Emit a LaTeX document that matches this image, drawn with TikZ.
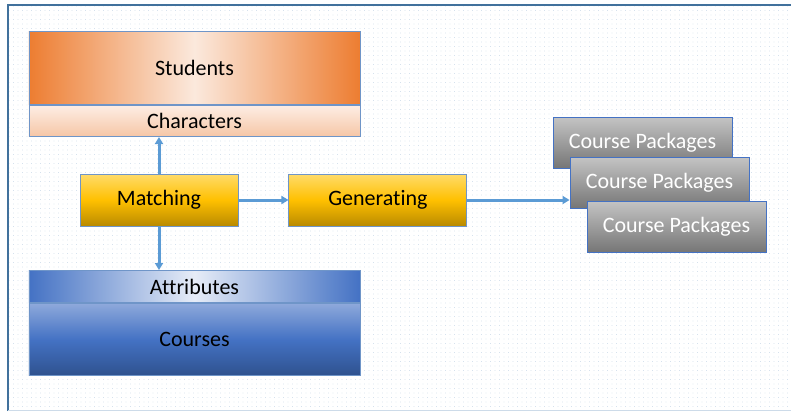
\documentclass[tikz,border=0pt]{standalone}
\usepackage{fontspec}
\setmainfont{Carlito}[Ligatures=NoCommon]
\usetikzlibrary{positioning,arrows.meta,patterns.meta}

\definecolor{frameblue}{HTML}{41719C}
\definecolor{edgeblue}{HTML}{6F95C8}
\definecolor{arrowblue}{HTML}{5B9BD5}
\definecolor{dotblue}{HTML}{C0D2E4}
\definecolor{orange1}{HTML}{ED7D31}
\definecolor{orange2}{HTML}{FBE9DD}
\definecolor{peach1}{HTML}{FDEDE4}
\definecolor{peach2}{HTML}{F6C6A6}
\definecolor{gold1}{HTML}{FFDB6A}
\definecolor{gold2}{HTML}{FFC000}
\definecolor{gold3}{HTML}{B98A00}
\definecolor{blue1}{HTML}{4472C4}
\definecolor{blue2}{HTML}{E6ECF7}
\definecolor{blue3}{HTML}{8EA9DB}
\definecolor{blue4}{HTML}{2F528F}
\definecolor{grey1}{HTML}{C4C4C4}
\definecolor{grey2}{HTML}{767676}

\tikzset{
  box/.style={draw=edgeblue, line width=0.9bp, inner sep=0pt,
    font=\fontsize{22bp}{24bp}\selectfont},
  wide/.style={box, minimum width=331bp},
  proc/.style={box, minimum height=52bp, top color=gold1, bottom color=gold3,
    middle color=gold2},
  pack/.style={box, draw=blue1, minimum width=179bp, minimum height=51bp,
    top color=grey1, bottom color=grey2, text=white},
  link/.style={draw=arrowblue, line width=3bp,
    -{Triangle[length=7bp,width=8bp]}}
}

\begin{document}
\begin{tikzpicture}[x=1bp,y=-1bp]
    % sheet with dotted paper
    \useasboundingbox (0,0) rectangle (791,411);
    \fill[white] (0,0) rectangle (791,411);
    \fill[pattern={Dots[distance=4.5bp,radius=0.45bp]}, pattern color=dotblue]
        (8,5) rectangle (791,410);
    \draw[frameblue, line width=1.5bp] (8,411) -- (8,5) -- (791,5);
    \draw[dotblue!80, line width=0.8bp] (8,410) -- (791,410);

    % middle row
    \node[proc, minimum width=158bp] (mat) at (159,200) {Matching};
    \node[proc, minimum width=178bp, right=50bp of mat] (gen) {Generating};

    % students above
    \node[wide, minimum height=31bp, top color=peach1, bottom color=peach2,
        anchor=south] (cha) at (194.5,137) {Characters};
    \node[wide, minimum height=73bp, left color=orange1, right color=orange1,
        middle color=orange2, above=0pt of cha] (stu) {Students};

    % courses below
    \node[wide, minimum height=32bp, left color=blue1, right color=blue1,
        middle color=blue2, anchor=north] (att) at (194.5,270) {Attributes};
    \node[wide, minimum height=72bp, top color=blue3, bottom color=blue4,
        middle color=blue1, below=0pt of att] (cou) {Courses};

    % stack of packages
    \node[pack] (pk1) at (642.5,142.5) {Course Packages};
    \node[pack] (pk2) at (659.5,182.5) {Course Packages};
    \node[pack] (pk3) at (676.5,226.5) {Course Packages};

    \draw[link] (mat.north) -- (mat.north |- cha.south);
    \draw[link] (mat.south) -- (mat.south |- att.north);
    \draw[link] (mat) -- (gen);
    \draw[link] (gen.east) -- (gen.east -| pk2.west);
\end{tikzpicture}
\end{document}
